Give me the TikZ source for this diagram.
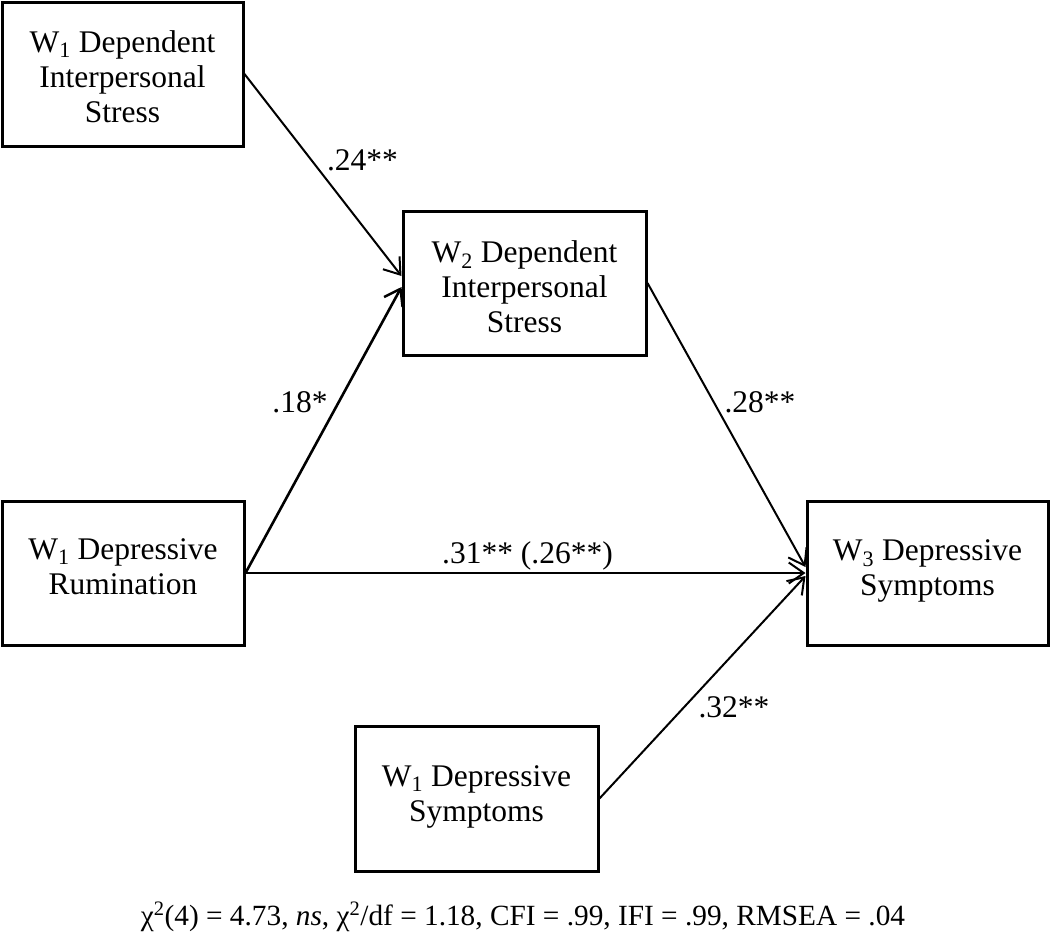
\documentclass[tikz,border=0pt]{standalone}
\usepackage{fontspec}
\setmainfont{Liberation Serif}
\usetikzlibrary{arrows.meta}
\begin{document}
\begin{tikzpicture}[x=1pt,y=-1pt,
  every node/.style={font=\fontsize{31.5}{35}\selectfont},
  box/.style={draw, line width=3pt, inner sep=0pt, minimum height=144pt},
  txt/.style={align=center, inner sep=0pt, anchor=base},
  lbl/.style={inner sep=0pt, anchor=base},
  arr/.style={line width=2pt, -{Straight Barb[length=15pt,width=21pt,line width=2pt]}},
  thickarr/.style={line width=2.6pt, -{Straight Barb[length=15pt,width=21pt,line width=2.4pt]}}
]
\useasboundingbox (0,0) rectangle (1050,943);
% boxes
\node[box, minimum width=241pt] (A) at (122.5,74) {};
\node[box, minimum width=243pt] (B) at (524.5,283) {};
\node[box, minimum width=241pt] (C) at (927.5,573) {};
\node[box, minimum width=242pt] (D) at (123,573) {};
\node[box, minimum width=243pt, minimum height=145pt] (E) at (476.5,798.5) {};
% texts (base = baseline of the last line)
\node[txt] (At) at (122.5,122) {W\textsubscript{1} Dependent\\Interpersonal\\Stress};
\node[txt] (Bt) at (524.5,332) {W\textsubscript{2} Dependent\\Interpersonal\\Stress};
\node[txt] (Ct) at (927.5,595) {W\textsubscript{3} Depressive\\Symptoms};
\node[txt] (Dt) at (123,594) {W\textsubscript{1} Depressive\\Rumination};
\node[txt] (Et) at (476.5,821) {W\textsubscript{1} Depressive\\Symptoms};
% connectors
\draw[arr] (A.east) -- ([yshift=7pt]B.west);
\draw[thickarr] (D.east) -- ([yshift=-4pt]B.west);
\draw[arr] (D.east) -- (C.west);
\draw[arr] (B.east) -- ([yshift=6pt]C.west);
\draw[arr] (E.east) -- ([yshift=-3pt]C.west);
% labels
\node[lbl] (l1) at (362.5,170) {.24**};
\node[lbl] (l2) at (300,412) {.18*};
\node[lbl] (l3) at (760,412) {.28**};
\node[lbl] (l4) at (527.5,563) {.31** (.26**)};
\node[lbl] (l5) at (734,717) {.32**};
% fit statistics
\node[lbl, font=\fontsize{29.3}{33}\selectfont] (fit) at (523,925) {χ\textsuperscript{2}(4) = 4.73, \textit{ns}, χ\textsuperscript{2}/df = 1.18, CFI = .99, IFI = .99, RMSEA = .04};
\end{tikzpicture}
\end{document}
